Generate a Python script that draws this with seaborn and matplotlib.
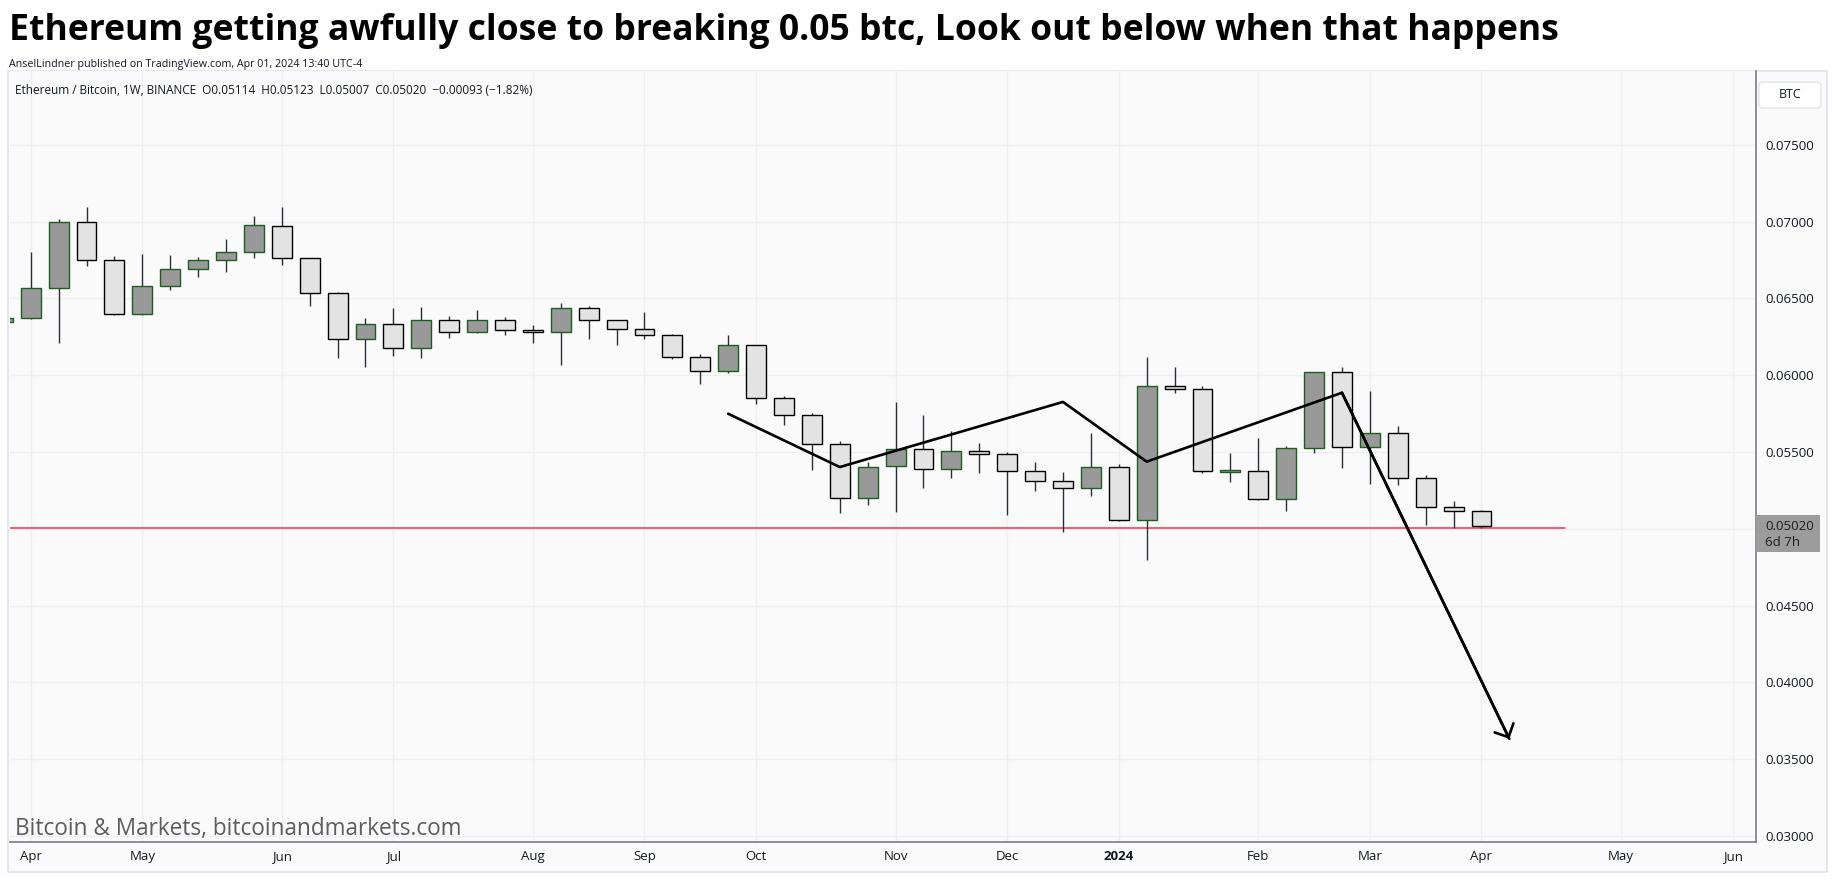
import matplotlib
matplotlib.use("Agg")
import matplotlib.pyplot as plt
import matplotlib.dates as mdates
from matplotlib.patches import Rectangle, FancyBboxPatch
from matplotlib.transforms import IdentityTransform
import pandas as pd
import seaborn as sns

sns.set_style("white")
plt.rcParams['font.family'] = ['Open Sans', 'DejaVu Sans']

# weekly ETH/BTC candles (Binance), week of 2023-03-27 .. 2024-04-01
opens = [0.06344, 0.06370, 0.06566, 0.06995, 0.06748, 0.06396, 0.06579, 0.06689, 0.06748, 0.06800,
         0.06969, 0.06761, 0.06533, 0.06234, 0.06331, 0.06175, 0.06357, 0.06279, 0.06357, 0.06292,
         0.06279, 0.06436, 0.06357, 0.06299, 0.06260, 0.06117, 0.06025, 0.06195, 0.05850, 0.05739,
         0.05550, 0.05199, 0.05407, 0.05518, 0.05387, 0.05505, 0.05485, 0.05374, 0.05309, 0.05264,
         0.05400, 0.05055, 0.05928, 0.05908, 0.05368, 0.05374, 0.05192, 0.05524, 0.06019, 0.05531,
         0.05622, 0.05329, 0.05140, 0.05114]
highs = [0.06400, 0.06802, 0.07015, 0.07095, 0.06776, 0.06789, 0.06783, 0.06770, 0.06887, 0.07036,
         0.07095, 0.06765, 0.06542, 0.06372, 0.06438, 0.06444, 0.06385, 0.06424, 0.06377, 0.06325,
         0.06470, 0.06451, 0.06360, 0.06411, 0.06266, 0.06136, 0.06262, 0.06198, 0.05863, 0.05752,
         0.05570, 0.05433, 0.05826, 0.05741, 0.05635, 0.05557, 0.05498, 0.05435, 0.05370, 0.05624,
         0.05420, 0.06118, 0.06051, 0.05928, 0.05494, 0.05591, 0.05537, 0.06022, 0.06053, 0.05897,
         0.05669, 0.05348, 0.05181, 0.05123]
lows = [0.06300, 0.06365, 0.06212, 0.06713, 0.06390, 0.06390, 0.06557, 0.06641, 0.06674, 0.06765,
        0.06719, 0.06452, 0.06114, 0.06055, 0.06127, 0.06114, 0.06244, 0.06275, 0.06264, 0.06212,
        0.06068, 0.06238, 0.06199, 0.06238, 0.06107, 0.05945, 0.06016, 0.05814, 0.05678, 0.05385,
        0.05105, 0.05157, 0.05111, 0.05268, 0.05333, 0.05361, 0.05092, 0.05248, 0.04981, 0.05216,
        0.05049, 0.04795, 0.05882, 0.05361, 0.05307, 0.05190, 0.05118, 0.05495, 0.05398, 0.05294,
        0.05287, 0.05027, 0.05003, 0.05007]
closes = [0.06370, 0.06566, 0.06995, 0.06748, 0.06396, 0.06579, 0.06689, 0.06748, 0.06800, 0.06976,
          0.06761, 0.06533, 0.06234, 0.06331, 0.06175, 0.06357, 0.06279, 0.06357, 0.06292, 0.06279,
          0.06436, 0.06357, 0.06299, 0.06260, 0.06117, 0.06025, 0.06195, 0.05850, 0.05739, 0.05550,
          0.05199, 0.05400, 0.05518, 0.05387, 0.05505, 0.05485, 0.05374, 0.05309, 0.05264, 0.05400,
          0.05055, 0.05928, 0.05908, 0.05374, 0.05381, 0.05192, 0.05524, 0.06019, 0.05531, 0.05622,
          0.05329, 0.05140, 0.05114, 0.05020]

# hand drawn trend line (zig-zag + arrow down)
trend_dates = ['2023-09-25', '2023-10-23', '2023-12-18', '2024-01-08', '2024-02-26', '2024-04-08']
trend_prices = [0.05749, 0.05402, 0.05826, 0.05437, 0.05886, 0.03632]

# horizontal support line
support_dates = ['2023-03-20', '2024-04-22']
support_price = 0.05003

# axis labels
y_ticks = [0.030, 0.035, 0.040, 0.045, 0.050, 0.055, 0.060, 0.065, 0.070, 0.075]
month_dates = ['2023-04-03', '2023-05-01', '2023-06-05', '2023-07-03', '2023-08-07', '2023-09-04',
               '2023-10-02', '2023-11-06', '2023-12-04', '2024-01-01', '2024-02-05', '2024-03-04',
               '2024-04-01', '2024-05-06', '2024-06-03']
month_labels = ['Apr', 'May', 'Jun', 'Jul', 'Aug', 'Sep', 'Oct', 'Nov', 'Dec', '2024',
                'Feb', 'Mar', 'Apr', 'May', 'Jun']

title = "Ethereum getting awfully close to breaking 0.05 btc, Look out below when that happens"
subtitle = "AnselLindner published on TradingView.com, Apr 01, 2024 13:40 UTC-4"
header = ("Ethereum / Bitcoin, 1W, BINANCE  O0.05114  H0.05123  L0.05007  C0.05020  "
          "\u22120.00093 (\u22121.82%)")
watermark = "Bitcoin & Markets, bitcoinandmarkets.com"

# build frame --------------------------------------------------------------
df = pd.DataFrame({'date': pd.date_range('2023-03-27', periods=len(opens), freq='7D'),
                   'open': opens, 'high': highs, 'low': lows, 'close': closes})
df['x'] = mdates.date2num(df['date'])
df['up'] = df['close'] >= df['open']
df['bottom'] = df[['open', 'close']].min(axis=1)
df['body'] = (df['close'] - df['open']).abs()

W, H = 1835, 883
def fx(px):
    return px / W
def fy(py):
    return 1 - py / H

fig = plt.figure(figsize=(W / 100, H / 100), dpi=100)
fig.patches.append(Rectangle((fx(8), fy(872)), fx(1827) - fx(8), fy(71) - fy(872),
                             transform=fig.transFigure, facecolor='#fafafa',
                             edgecolor='#e0e3eb', lw=1.2, zorder=-1))

ax = fig.add_axes([fx(10), fy(841.7), fx(1756) - fx(10), fy(71) - fy(841.7)])
ax.set_facecolor('#fafafa')

# candles
ax.vlines(df['x'], df['low'], df['high'], color='#2a2e39', lw=1.0, zorder=2)
ax.bar(df['x'], df['body'], bottom=df['bottom'], width=5.0,
       color=df['up'].map({True: '#999999', False: '#e3e3e3'}),
       edgecolor=df['up'].map({True: '#1b5e20', False: '#000000'}),
       linewidth=1.0, zorder=3)

# support line
sx = mdates.date2num(pd.to_datetime(support_dates))
ax.plot(sx, [support_price, support_price], color='#f23645', lw=1.1, zorder=1.5)

# trend line with arrow head
tx = mdates.date2num(pd.to_datetime(trend_dates))
sns.lineplot(x=tx, y=trend_prices, color='black', lw=1.9, sort=False,
             estimator=None, ax=ax, zorder=4)
ax.annotate('', xy=(tx[-1], trend_prices[-1]), xytext=(tx[-2], trend_prices[-2]),
            arrowprops=dict(arrowstyle='->,head_length=1.0,head_width=1.0',
                            mutation_scale=7.5, lw=1.9, color='black',
                            shrinkA=0, shrinkB=0), zorder=4)

# axes
x0 = mdates.date2num(pd.Timestamp('2023-04-03'))
ax.set_xlim(x0 - 0.742 * 7, x0 + 61.84 * 7)
ax.set_ylim(0.029629, 0.079805)

ax.set_xticks(mdates.date2num(pd.to_datetime(month_dates)))
ax.set_xticklabels(month_labels)
for lab in ax.get_xticklabels():
    if lab.get_text() == '2024':
        lab.set_fontweight('bold')
ax.set_yticks(y_ticks)
ax.set_yticklabels(['' if abs(v - 0.05) < 1e-9 else f'{v:.5f}' for v in y_ticks])
ax.yaxis.tick_right()
ax.tick_params(axis='y', length=0, pad=6.5, labelsize=9.5, labelcolor='#131722')
ax.tick_params(axis='x', length=0, pad=6.0, labelsize=9.5, labelcolor='#131722')
ax.grid(True, color='#efefef', lw=1.0)
ax.set_axisbelow(True)
for s in ['top', 'left']:
    ax.spines[s].set_visible(False)
for s in ['right', 'bottom']:
    ax.spines[s].set_color('#787b86')
    ax.spines[s].set_linewidth(1.2)

# texts
def fit(t, width_px):
    r = fig.canvas.get_renderer()
    w = t.get_window_extent(renderer=r).width
    t.set_fontsize(t.get_fontsize() * width_px / w)

t = fig.text(fx(9), fy(40), title, fontsize=22, fontweight='bold', color='black', va='baseline')
fit(t, 1545)
t = fig.text(fx(9), fy(65), subtitle, fontsize=7.5, color='#131722', va='center')
fit(t, 354)
t = fig.text(fx(15), fy(91), header, fontsize=7.5, color='#131722', va='center')
fit(t, 513)
t = fig.text(fx(15), fy(835), watermark, fontsize=16, color='#5d5d5d', va='baseline')
fit(t, 447)

# currency box on top of the price scale (pixel coordinates)
fig.patches.append(FancyBboxPatch((1759, H - 108), 62, 26,
                                  boxstyle='round,pad=0,rounding_size=4',
                                  transform=IdentityTransform(), facecolor='white',
                                  edgecolor='#e0e3eb', lw=1.0, zorder=5))
fig.text(fx(1790), fy(95), 'BTC', fontsize=9, color='#131722', ha='center', va='center', zorder=6)

# last price label
fig.patches.append(Rectangle((fx(1756), fy(552)), fx(1820) - fx(1756), fy(515) - fy(552),
                             transform=fig.transFigure, facecolor='#9c9c9c',
                             edgecolor='none', zorder=5))
fig.text(fx(1765), fy(527), f'{closes[-1]:.5f}', fontsize=9.5, color='#1e1e1e',
         va='center', zorder=6)
fig.text(fx(1765), fy(543), '6d 7h', fontsize=9.5, color='#1e1e1e', va='center', zorder=6)

plt.savefig('out.png', dpi=100)
